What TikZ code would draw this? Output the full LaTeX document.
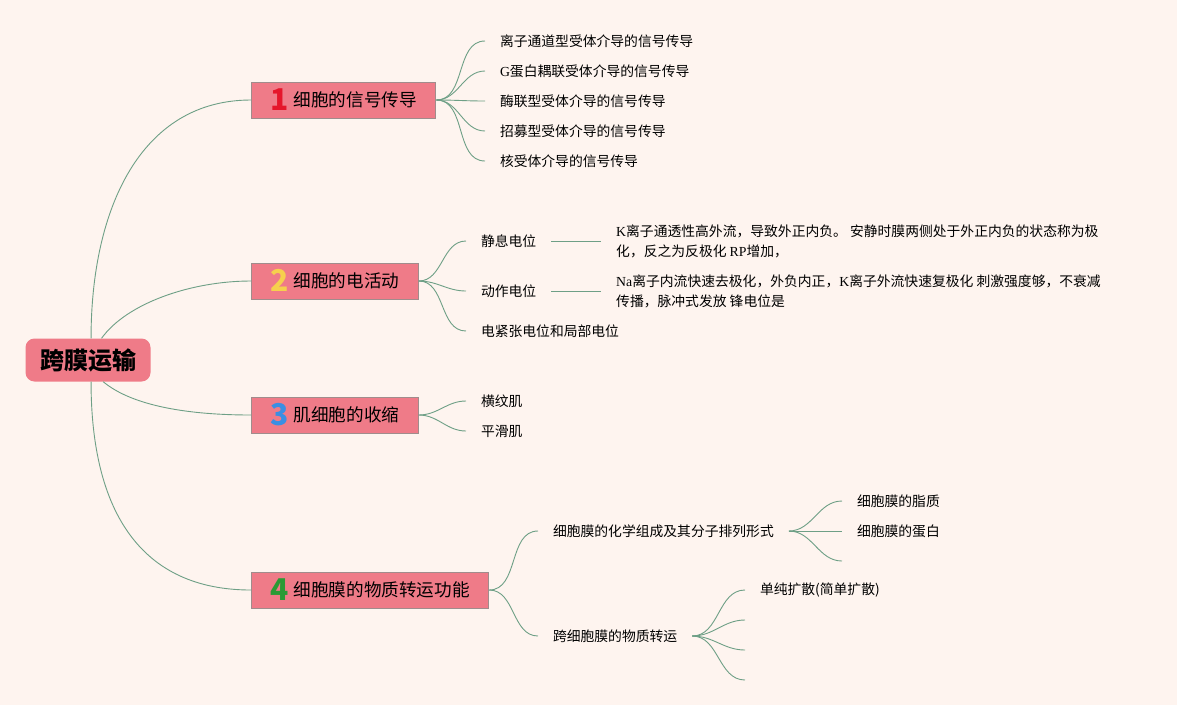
\documentclass[tikz,border=0pt]{standalone}
\usepackage{fontspec}
\setmainfont{Noto Sans CJK SC}
\newfontfamily\lat{Liberation Serif}
\usetikzlibrary{positioning}
\definecolor{bgcol}{HTML}{FEF4EF}
\definecolor{pinkfill}{HTML}{EF7B88}
\definecolor{edgegray}{HTML}{A08C8C}
\definecolor{linkcol}{HTML}{6E9F86}
\definecolor{numred}{HTML}{E5162B}
\definecolor{numyellow}{HTML}{F6D04D}
\definecolor{numblue}{HTML}{3A8FE3}
\definecolor{numgreen}{HTML}{2A9A35}
\newcommand{\badge}[2]{{\color{#1}\fontsize{30}{30}\selectfont\bfseries\smash{\raisebox{-4pt}{#2}}}\hspace{5pt}}

\begin{document}
\begin{tikzpicture}[x=1pt,y=-1pt,
  link/.style={linkcol,line width=0.9pt},
  topic/.style={draw=edgegray,line width=0.9pt,fill=pinkfill,minimum height=36pt,
    inner xsep=19pt,anchor=west,font=\fontsize{17.6}{20}\selectfont},
  leaf/.style={anchor=west,inner sep=0pt,outer xsep=15pt,
    font=\fontsize{13.8}{20}\selectfont,align=left}]
  \fill[bgcol] (0,0) rectangle (1177,705);
  \useasboundingbox (0,0) rectangle (1177,705);

  % central topic
  \node[fill=pinkfill,rounded corners=9pt,minimum width=125pt,minimum height=43pt,
    font=\fontsize{24}{24}\selectfont\bfseries] (root) at (88,360) {跨膜运输};

  % main branches
  \node[topic] (sig) at (251,100) {\badge{numred}{1}细胞的信号传导};
  \node[topic] (elec) at (251,281) {\badge{numyellow}{2}细胞的电活动};
  \node[topic] (mus) at (251,415) {\badge{numblue}{3}肌细胞的收缩};
  \node[topic] (trans) at (251,590) {\badge{numgreen}{4}细胞膜的物质转运功能};

  \draw[link] (root.82) .. controls +(0,-130) and +(-110,0) .. (sig.west);
  \draw[link] (root.58) .. controls +(25,-35) and +(-60,0) .. (elec.west);
  \draw[link] (root.-55) .. controls +(30,25) and +(-60,0) .. (mus.west);
  \draw[link] (root.-82) .. controls +(0,130) and +(-110,0) .. (trans.west);

  % 1
  \foreach \y/\t [count=\i] in {41/离子通道型受体介导的信号传导,
      71/{{\lat G}蛋白耦联受体介导的信号传导}, 101/酶联型受体介导的信号传导,
      131/招募型受体介导的信号传导, 161/核受体介导的信号传导} {
    \node[leaf] (sig\i) at (485,\y) {\t};
    \draw[link] (sig.east) to[out=0,in=180] (sig\i.west);
  }

  % 2
  \node[leaf] (rest) at (466,241) {静息电位};
  \node[leaf] (act) at (466,291) {动作电位};
  \node[leaf] (local) at (466,331) {电紧张电位和局部电位};
  \node[leaf,right=50pt of rest] (restd)
    {{\lat K}离子通透性高外流，导致外正内负。 安静时膜两侧处于外正内负的状态称为极\\
     化，反之为反极化 {\lat RP}增加，};
  \node[leaf,right=50pt of act] (actd)
    {{\lat Na}离子内流快速去极化，外负内正，{\lat K}离子外流快速复极化 刺激强度够，不衰减\\
     传播，脉冲式发放 锋电位是};
  \foreach \n in {rest,act,local}
    \draw[link] (elec.east) to[out=0,in=180] (\n.west);
  \draw[link] (rest) -- (restd);
  \draw[link] (act) -- (actd);

  % 3
  \node[leaf] (stri) at (466,401) {横纹肌};
  \node[leaf] (smoo) at (466,431) {平滑肌};
  \foreach \n in {stri,smoo}
    \draw[link] (mus.east) to[out=0,in=180] (\n.west);

  % 4
  \node[leaf] (comp) at (538,531) {细胞膜的化学组成及其分子排列形式};
  \node[leaf] (cross) at (538,636) {跨细胞膜的物质转运};
  \foreach \n in {comp,cross}
    \draw[link] (trans.east) to[out=0,in=180] (\n.west);

  \node[leaf] (lipid) at (842,501) {细胞膜的脂质};
  \node[leaf] (prot) at (842,531) {细胞膜的蛋白};
  \coordinate (comp3) at (842,561);
  \foreach \n in {lipid.west,prot.west,comp3}
    \draw[link] (comp.east) to[out=0,in=180] (\n);

  \node[leaf] (simp) at (745,590) {单纯扩散(简单扩散)};
  \coordinate (cross2) at (745,620);
  \coordinate (cross3) at (745,650);
  \coordinate (cross4) at (745,680);
  \foreach \n in {simp.west,cross2,cross3,cross4}
    \draw[link] (cross.east) to[out=0,in=180] (\n);
\end{tikzpicture}
\end{document}
